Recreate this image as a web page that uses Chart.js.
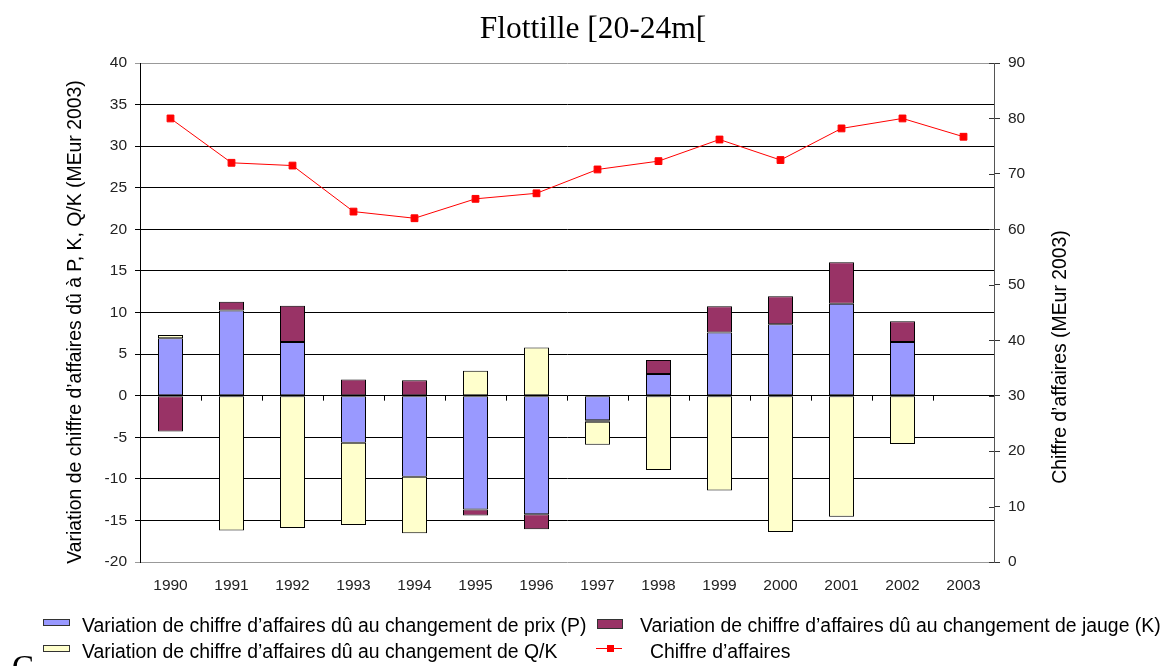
<!DOCTYPE html>
<html>
<head>
<meta charset="utf-8">
<title>Flottille [20-24m[</title>
<script src="https://cdn.jsdelivr.net/npm/chart.js@4.4.1/dist/chart.umd.min.js"></script>
<style>
  html, body { margin: 0; padding: 0; background: #fff; }
  #wrap { position: relative; width: 1163px; height: 666px; overflow: hidden; }
  #chart { position: absolute; left: 0; top: 0; }
  #legend { position: absolute; left: 0; top: 0; width: 1163px; height: 666px; pointer-events: none;
            font-family: "Liberation Sans", Arial, sans-serif; font-size: 19.4px; color: #000; }
  .lg-text { position: absolute; white-space: nowrap; line-height: 22px; }
  .lg-box { position: absolute; border: 1px solid #333; }
  .lg-line { position: absolute; height: 1px; }
  .lg-mark { position: absolute; width: 7px; height: 7px; }
  #stray { position: absolute; left: 12px; top: 650px; line-height: 34px; font-family: "Liberation Serif", serif; font-size: 33px; }
</style>
</head>
<body>
<div id="wrap">
  <canvas id="chart" width="1163" height="666"></canvas>
  <div id="legend"></div>
  <div id="stray">C</div>
</div>
<script>
// Donnees
const years = ['1990', '1991', '1992', '1993', '1994', '1995', '1996',
               '1997', '1998', '1999', '2000', '2001', '2002', '2003'];
// variation due au prix (P)
const varPrix = [6.9, 10.25, 6.45, -5.65, -9.75, -13.7, -14.25, -2.95, 2.6, 7.6, 8.6, 11.05, 6.45, null];
// variation due a la jauge (K)
const varJauge = [-4.3, 1.05, 4.35, 1.95, 1.85, -0.7, -1.8, -0.2, 1.7, 3.15, 3.35, 5.0, 2.5, null];
// variation due a Q/K
const varQK = [0.4, -16.2, -15.9, -9.9, -6.8, 3.0, 5.8, -2.75, -8.95, -11.4, -16.4, -14.55, -5.8, null];
// chiffre d'affaires (MEur 2003), axe de droite
const chiffreAffaires = [80.0, 72.0, 71.5, 63.2, 62.0, 65.5, 66.5, 70.8, 72.3, 76.2, 72.5, 78.2, 80.0, 76.7];

const labelPrix = 'Variation de chiffre d\u2019affaires dû au changement de prix (P)';
const labelJauge = 'Variation de chiffre d\u2019affaires dû au changement de jauge (K)';
const labelQK = 'Variation de chiffre d\u2019affaires dû au changement de Q/K';
const labelCA = 'Chiffre d\u2019affaires';

const FONT = "'Liberation Sans', Arial, sans-serif";

/**
 * Titre, titres d'axes et petites graduations (ligne zero, axe de droite)
 */
const decorPlugin = {
  id: 'decor',
  afterDraw(chart) {
    const ctx = chart.ctx;
    const area = chart.chartArea;
    const y = chart.scales.y;
    const y2 = chart.scales.y2;
    ctx.save();

    // graduations de categories sur la ligne zero
    const y0 = y.getPixelForValue(0);
    ctx.strokeStyle = '#000';
    ctx.lineWidth = 1;
    const step = (area.right - area.left) / years.length;
    for (let i = 1; i < years.length; i++) {
      const px = Math.round(area.left + step * i) + 0.5;
      ctx.beginPath();
      ctx.moveTo(px, y0);
      ctx.lineTo(px, y0 + 5);
      ctx.stroke();
    }

    // partie interieure des graduations de l'axe de droite
    ctx.strokeStyle = '#333';
    y2.ticks.forEach(function(t) {
      const py = Math.round(y2.getPixelForValue(t.value)) + 0.5;
      ctx.beginPath();
      ctx.moveTo(area.right - 5, py);
      ctx.lineTo(area.right, py);
      ctx.stroke();
    });

    // titre
    ctx.fillStyle = '#000';
    ctx.font = "31.5px 'Liberation Serif', 'Times New Roman', serif";
    ctx.textAlign = 'center';
    ctx.textBaseline = 'middle';
    ctx.fillText('Flottille [20-24m[', 593, 30);

    // titres des axes
    ctx.font = '19.4px ' + FONT;
    ctx.translate(76, 322);
    ctx.rotate(-Math.PI / 2);
    ctx.fillText('Variation de chiffre d\u2019affaires dû à P, K, Q/K (MEur 2003)', 0, 0);
    ctx.setTransform(1, 0, 0, 1, 0, 0);
    ctx.translate(1061, 357);
    ctx.rotate(-Math.PI / 2);
    ctx.fillText('Chiffre d\u2019affaires (MEur 2003)', 0, 0);
    ctx.restore();
  }
};

const ctx = document.getElementById('chart').getContext('2d');

const chart = new Chart(ctx, {
  type: 'bar',
  data: {
    labels: years,
    datasets: [
      {
        type: 'line',
        label: labelCA,
        data: chiffreAffaires,
        yAxisID: 'y2',
        order: 0,
        borderColor: '#FF0000',
        backgroundColor: '#FF0000',
        borderWidth: 1,
        pointStyle: 'rect',
        pointRadius: 4.8,
        pointBorderWidth: 1,
        pointBackgroundColor: '#FF0000',
        pointBorderColor: '#FF0000',
        tension: 0
      },
      {
        label: labelPrix,
        data: varPrix,
        yAxisID: 'y',
        order: 1,
        backgroundColor: '#9999FF',
        borderColor: '#000000',
        borderWidth: 1,
        borderSkipped: false,
        barPercentage: 0.82,
        categoryPercentage: 0.5
      },
      {
        label: labelJauge,
        data: varJauge,
        yAxisID: 'y',
        order: 1,
        backgroundColor: '#993366',
        borderColor: '#000000',
        borderWidth: 1,
        borderSkipped: false,
        barPercentage: 0.82,
        categoryPercentage: 0.5
      },
      {
        label: labelQK,
        data: varQK,
        yAxisID: 'y',
        order: 1,
        backgroundColor: '#FFFFCC',
        borderColor: '#000000',
        borderWidth: 1,
        borderSkipped: false,
        barPercentage: 0.82,
        categoryPercentage: 0.5
      }
    ]
  },
  options: {
    responsive: false,
    animation: false,
    devicePixelRatio: 1,
    layout: {
      padding: { top: 63, bottom: 70, left: 0, right: 0 }
    },
    plugins: {
      legend: { display: false },
      title: { display: false },
      tooltip: { enabled: false }
    },
    scales: {
      x: {
        stacked: true,
        grid: { display: false, drawTicks: false },
        border: { display: false },
        ticks: {
          color: '#222',
          font: { size: 15.5, family: FONT },
          padding: 14,
          maxRotation: 0
        },
        afterFit: function(scale) { scale.height = 34; }
      },
      y: {
        stacked: true,
        position: 'left',
        min: -20,
        max: 40,
        grid: {
          color: function(c) {
            if (c.tick && (c.tick.value === 40 || c.tick.value === -20)) return '#999999';
            return '#000000';
          },
          lineWidth: 1,
          tickLength: 5
        },
        border: { color: '#000', width: 1 },
        ticks: {
          stepSize: 5,
          color: '#222',
          font: { size: 15.5, family: FONT },
          padding: 8
        },
        afterFit: function(scale) { scale.width = 140; }
      },
      y2: {
        position: 'right',
        min: 0,
        max: 90,
        grid: {
          drawOnChartArea: false,
          color: '#333',
          tickLength: 6
        },
        border: { color: '#555', width: 1 },
        ticks: {
          stepSize: 10,
          color: '#222',
          font: { size: 15.5, family: FONT },
          padding: 8
        },
        afterFit: function(scale) { scale.width = 169; }
      }
    }
  },
  plugins: [decorPlugin]
});

/**
 * Legende HTML a deux colonnes, construite depuis les datasets
 */
function buildLegend() {
  const legend = document.getElementById('legend');
  const ds = chart.data.datasets;
  // [gauche, haut, largeur, hauteur] de la case ; [gauche, haut] du texte
  const items = [
    { d: ds[1], box: [43, 619, 25, 5], text: [82, 614] },
    { d: ds[2], box: [597, 619, 24, 8], text: [640, 614] },
    { d: ds[3], box: [43, 645, 25, 5], text: [82, 640] }
  ];
  items.forEach(function(it) {
    const b = document.createElement('div');
    b.className = 'lg-box';
    b.style.left = it.box[0] + 'px';
    b.style.top = it.box[1] + 'px';
    b.style.width = it.box[2] + 'px';
    b.style.height = it.box[3] + 'px';
    b.style.background = it.d.backgroundColor;
    legend.appendChild(b);
    const t = document.createElement('div');
    t.className = 'lg-text';
    t.style.left = it.text[0] + 'px';
    t.style.top = it.text[1] + 'px';
    t.textContent = it.d.label;
    legend.appendChild(t);
  });
  // entree de la courbe
  const line = ds[0];
  const l = document.createElement('div');
  l.className = 'lg-line';
  l.style.left = '596px';
  l.style.top = '648px';
  l.style.width = '26px';
  l.style.background = line.borderColor;
  legend.appendChild(l);
  const m = document.createElement('div');
  m.className = 'lg-mark';
  m.style.left = '607px';
  m.style.top = '645px';
  m.style.background = line.pointBackgroundColor;
  legend.appendChild(m);
  const t = document.createElement('div');
  t.className = 'lg-text';
  t.style.left = '650px';
  t.style.top = '640px';
  t.textContent = line.label;
  legend.appendChild(t);
}

buildLegend();
</script>
</body>
</html>
